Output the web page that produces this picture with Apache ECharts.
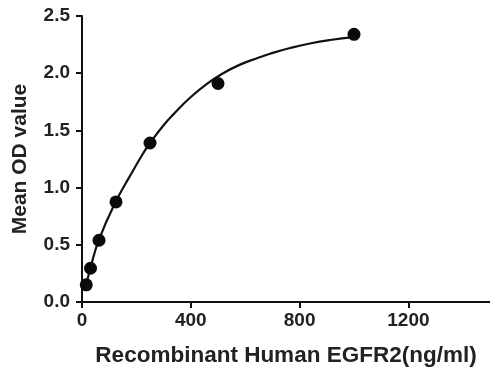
<!DOCTYPE html>
<html><head><meta charset="utf-8">
<script src="https://cdn.jsdelivr.net/npm/echarts@6/dist/echarts.min.js"></script>
<style>html,body{margin:0;padding:0;background:#fff}#c{width:490px;height:372px}</style>
</head><body><div id="c"></div>
<script>
const concentrations = [15.6, 31.25, 62.5, 125, 250, 500, 1000];
const meanOD = [0.15, 0.295, 0.54, 0.875, 1.39, 1.91, 2.34];
const curveX = [15.6, 31.25, 62.5, 125, 176, 225, 250, 300, 336, 397, 458, 519, 581, 648, 691, 765, 838, 912, 1000];
const curveY = [0.15, 0.30, 0.545, 0.88, 1.10, 1.30, 1.39, 1.545, 1.64, 1.785, 1.905, 2.00, 2.075, 2.135, 2.17, 2.22, 2.26, 2.29, 2.315];
const xTicks = [0, 400, 800, 1200];

const font = 'Liberation Sans, Arial, sans-serif';
const chart = echarts.init(document.getElementById('c'), null, {renderer: 'canvas'});
chart.setOption({
  animation: false,
  grid: {left: 82, top: 16, right: 0, bottom: 70, containLabel: false},
  xAxis: {
    type: 'value', min: 0, max: 1500,
    name: 'Recombinant Human EGFR2(ng/ml)', nameLocation: 'middle', nameGap: 42,
    nameTextStyle: {fontFamily: font, fontWeight: 'bold', fontSize: 22.5, color: '#222'},
    axisLine: {show: true, onZero: false, lineStyle: {color: '#111', width: 2}},
    axisTick: {show: true, length: 6, lineStyle: {color: '#111', width: 2}, customValues: xTicks},
    axisLabel: {fontFamily: font, fontWeight: 'bold', fontSize: 19, color: '#222', margin: 9,
      customValues: xTicks, formatter: v => String(v)},
    splitLine: {show: false}
  },
  yAxis: {
    type: 'value', min: 0, max: 2.5, interval: 0.5,
    name: 'Mean OD value', nameLocation: 'middle', nameGap: 51, nameRotate: 90,
    nameTextStyle: {fontFamily: font, fontWeight: 'bold', fontSize: 21, color: '#222'},
    axisLine: {show: true, lineStyle: {color: '#111', width: 2}},
    axisTick: {show: true, length: 6, lineStyle: {color: '#111', width: 2}},
    axisLabel: {fontFamily: font, fontWeight: 'bold', fontSize: 19, color: '#222', margin: 12,
      formatter: v => v.toFixed(1)},
    splitLine: {show: false}
  },
  series: [
    {type: 'line', data: curveX.map((x, i) => [x, curveY[i]]), smooth: 0.5,
     showSymbol: false, lineStyle: {color: '#111', width: 2.2}, z: 2},
    {type: 'scatter', data: concentrations.map((x, i) => [x, meanOD[i]]), symbolSize: 13,
     itemStyle: {color: '#0a0a0a', opacity: 1}, z: 3}
  ]
});
</script></body></html>
